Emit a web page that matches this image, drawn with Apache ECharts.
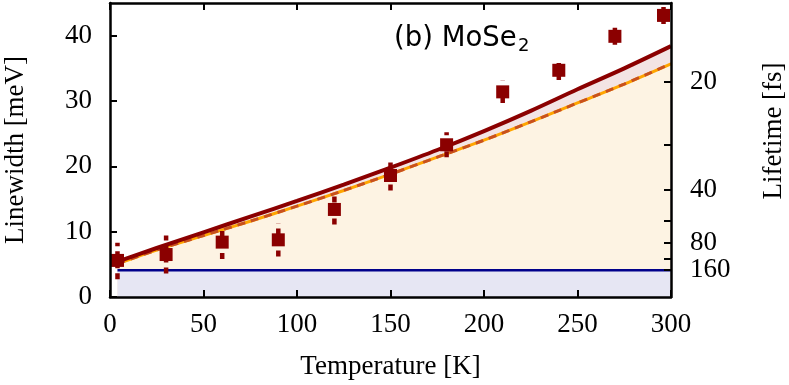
<!DOCTYPE html>
<html>
<head>
<meta charset="utf-8">
<script src="https://cdn.jsdelivr.net/npm/echarts@6/dist/echarts.min.js"></script>
<style>
  html, body { margin: 0; padding: 0; background: #fff; }
  #chart { width: 789px; height: 385px; }
</style>
</head>
<body>
<div id="chart"></div>
<script>
// measured linewidths (meV) with error bars
const tempPts = [4, 30, 60, 90, 120, 150, 180, 210, 240, 270, 296];
const widthPts = [5.6, 6.5, 8.4, 8.75, 13.4, 18.6, 23.3, 31.4, 34.7, 39.9, 43.1];
const errLow = [2.7, 3.6, 5.8, 6.2, 11.1, 16.3, 21.4, 29.7, 33.2, 38.6, 41.8];
const errHigh = [8.3, 9.4, 11.0, 11.3, 15.8, 20.6, 25.2, 33.1, 36.2, 41.2, 44.4];

// model curves
const tempCurve = [4, 25, 50, 75, 100, 125, 150, 175, 200, 225, 250, 275, 300];
const totalCurve = [5.4, 7.5, 9.9, 12.3, 14.7, 17.2, 19.8, 22.5, 25.4, 28.5, 31.8, 35.0, 38.4];
const phononCurve = [5.1, 7.2, 9.4, 11.6, 13.9, 16.3, 18.8, 21.4, 24.0, 26.8, 29.7, 32.6, 35.7];
const tempFlat = [4, 300];
const flatCurve = [4.1, 4.1];

// axes
const yTicks = [0, 10, 20, 30, 40];
const lifeLabels = [20, 40, 80, 160];
const lifeTicks = [20, 28.28, 40, 56.57, 80, 113.1, 160];
const hbar = 658.2; // meV fs

const pairs = (xs, ys) => xs.map((x, i) => [x, ys[i]]);

const serif = 'Liberation Serif';
const line = () => ({ show: true, onZero: false, lineStyle: { color: '#000', width: 2.5 } });
const ticks = (vals) => {
  const t = { show: true, inside: true, length: 7, lineStyle: { color: '#000', width: 2 } };
  if (vals) t.customValues = vals;
  return t;
};
const labelStyle = { fontFamily: serif, fontSize: 27, color: '#000' };

const chart = echarts.init(document.getElementById('chart'));

const option = {
  animation: false,
  grid: { left: 110, right: 118, top: 3, bottom: 88 },
  xAxis: [{
    type: 'value', min: 0, max: 300, interval: 50, position: 'bottom', z: 10,
    axisLine: line(),
    axisTick: ticks(),
    axisLabel: Object.assign({ margin: 14 }, labelStyle),
    splitLine: { show: false },
    name: 'Temperature [K]', nameLocation: 'middle', nameGap: 56,
    nameTextStyle: { fontFamily: serif, fontSize: 27, color: '#000' }
  }, {
    type: 'value', min: 0, max: 300, interval: 50, position: 'top', z: 10,
    axisLine: line(),
    axisTick: ticks(),
    axisLabel: { show: false },
    splitLine: { show: false }
  }],
  yAxis: [{
    type: 'value', min: 0, max: 45, position: 'left', z: 10,
    axisLine: line(),
    axisTick: ticks(yTicks),
    axisLabel: Object.assign({ margin: 18, customValues: yTicks }, labelStyle),
    splitLine: { show: false }
  }, {
    type: 'value', min: 0, max: 45, position: 'right', z: 10,
    axisLine: line(),
    axisTick: ticks(lifeTicks.map(t => hbar / t)),
    axisLabel: Object.assign({
      margin: 19,
      customValues: lifeLabels.map(t => hbar / t),
      formatter: v => String(Math.round(hbar / v))
    }, labelStyle),
    splitLine: { show: false }
  }],
  graphic: [
    { type: 'text', x: 16, y: 150, rotation: Math.PI / 2,
      style: { text: 'Linewidth [meV]', font: '27px "Liberation Serif"', fill: '#000', align: 'center', verticalAlign: 'middle' } },
    { type: 'text', x: 774, y: 131, rotation: Math.PI / 2,
      style: { text: 'Lifetime [fs]', font: '27px "Liberation Serif"', fill: '#000', align: 'center', verticalAlign: 'middle' } },
    { type: 'text', x: 394, y: 39,
      style: { text: '(b) MoSe', font: '27.5px "DejaVu Sans"', fill: '#000', align: 'left', verticalAlign: 'middle' } },
    { type: 'text', x: 518, y: 46,
      style: { text: '2', font: '18px "DejaVu Sans"', fill: '#000', align: 'left', verticalAlign: 'middle' } }
  ],
  series: [
    { type: 'line', data: pairs(tempCurve, totalCurve), showSymbol: false, silent: true,
      lineStyle: { width: 0, opacity: 0 }, areaStyle: { color: '#f3e4e4', opacity: 1 }, z: 1 },
    { type: 'line', data: pairs(tempCurve, phononCurve), showSymbol: false, silent: true,
      lineStyle: { width: 0, opacity: 0 }, areaStyle: { color: '#fdf3e3', opacity: 1 }, z: 1 },
    { type: 'line', data: pairs(tempFlat, flatCurve), showSymbol: false, silent: true,
      lineStyle: { width: 0, opacity: 0 }, areaStyle: { color: '#e6e6f3', opacity: 1 }, z: 1 },
    { type: 'line', data: pairs(tempFlat, flatCurve), showSymbol: false,
      lineStyle: { color: '#00008b', width: 2.5 }, z: 2 },
    { type: 'line', data: pairs(tempCurve, phononCurve), showSymbol: false, smooth: 0.3,
      lineStyle: { color: '#ffa500', width: 3 }, z: 2 },
    { type: 'line', data: pairs(tempCurve, phononCurve), showSymbol: false, smooth: 0.3,
      lineStyle: { color: '#c8501e', width: 3, type: [8, 6] }, z: 2 },
    { type: 'line', data: pairs(tempCurve, totalCurve), showSymbol: false, smooth: 0.3,
      lineStyle: { color: '#8b0000', width: 4 }, z: 3 },
    { type: 'custom', z: 4,
      data: tempPts.map((t, i) => [t, errLow[i], errHigh[i]]),
      renderItem: (params, api) => {
        const lo = api.coord([api.value(0), api.value(1)]);
        const hi = api.coord([api.value(0), api.value(2)]);
        return {
          type: 'line',
          shape: { x1: lo[0], y1: lo[1], x2: hi[0], y2: hi[1] },
          style: { stroke: '#8b0000', lineWidth: 4.5, lineDash: [6, 5] }
        };
      }
    },
    { type: 'scatter', data: pairs(tempPts, widthPts), symbol: 'rect', symbolSize: 13,
      itemStyle: { color: '#8b0000', opacity: 1 }, z: 5 }
  ]
};

chart.setOption(option);
</script>
</body>
</html>
